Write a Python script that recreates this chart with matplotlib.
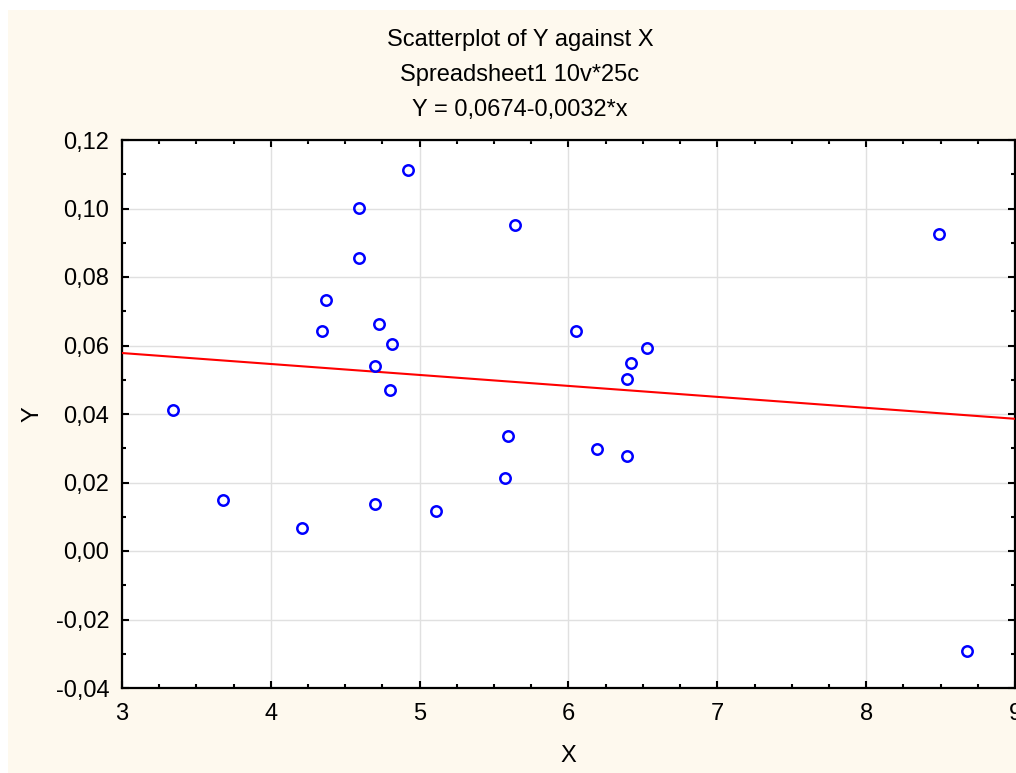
import matplotlib
matplotlib.use("Agg")
import matplotlib.pyplot as plt
from matplotlib.patches import Rectangle
from matplotlib.ticker import MultipleLocator, FuncFormatter
import numpy as np

x_vals = [3.34, 3.68, 4.21, 4.345, 4.37, 4.595, 4.595, 4.70, 4.73, 4.815,
          4.80, 4.70, 4.92, 5.11, 5.64, 5.57, 5.595, 6.05, 6.19, 6.39,
          6.395, 6.42, 6.53, 8.49, 8.68]
y_vals = [0.0412, 0.0150, 0.0067, 0.0643, 0.0734, 0.1002, 0.0855, 0.0541, 0.0663, 0.0604,
          0.0470, 0.0137, 0.1111, 0.0117, 0.0951, 0.0214, 0.0336, 0.0643, 0.0298, 0.0278,
          0.0503, 0.0548, 0.0593, 0.0925, -0.0293]
intercept = 0.0674
slope = -0.0032
title_lines = ["Scatterplot of Y against X", "Spreadsheet1 10v*25c", "Y = 0,0674-0,0032*x"]

W, H = 1016, 773
fig = plt.figure(figsize=(W / 100, H / 100), dpi=100)
fig.patch.set_facecolor("white")
plt.rcParams['font.family'] = ['Liberation Sans', 'DejaVu Sans']

fig.patches.append(Rectangle((8 / W, 0), 1, 1 - 10 / H, transform=fig.transFigure,
                             facecolor="#FEF9EE", edgecolor="none", zorder=-10))

ax = fig.add_axes([122 / W, 1 - 688 / H, (1015 - 122) / W, (688 - 140) / H])
ax.set_facecolor("white")
ax.set_xlim(3, 9)
ax.set_ylim(-0.04, 0.12)

ax.xaxis.set_major_locator(MultipleLocator(1))
ax.xaxis.set_minor_locator(MultipleLocator(0.25))
ax.yaxis.set_major_locator(MultipleLocator(0.02))
ax.yaxis.set_minor_locator(MultipleLocator(0.01))
ax.yaxis.set_major_formatter(FuncFormatter(lambda v, p: f"{v:.2f}".replace(".", ",").replace("-0,00", "0,00")))
ax.xaxis.set_major_formatter(FuncFormatter(lambda v, p: f"{v:.0f}"))

ax.grid(True, which="major", color="#E0E0E0", linewidth=1.0, zorder=0)
ax.tick_params(which="both", direction="in", top=True, right=True, width=1.5, color="black")
ax.tick_params(which="major", length=5, labelsize=17)
ax.tick_params(axis="x", which="major", pad=11)
ax.tick_params(axis="y", which="major", pad=9)
ax.tick_params(which="minor", length=3)
for s in ax.spines.values():
    s.set_linewidth(1.6)
    s.set_color("black")

xl = np.array([3, 9])
ax.plot(xl, intercept + slope * xl, color="#FF0000", linewidth=1.5, zorder=3)
ax.plot(x_vals, y_vals, linestyle="none", marker="o", markersize=7.5,
        markerfacecolor="none", markeredgecolor="#0000FF", markeredgewidth=1.8, zorder=4,
        clip_on=False)

ax.set_xlabel("X", fontsize=17, labelpad=14)
ax.set_ylabel("Y", fontsize=17, labelpad=9)

for i, t in enumerate(title_lines):
    fig.text(520 / W, 1 - (40 + 35 * i) / H, t, ha="center", va="center", fontsize=17)

fig.savefig("out.png", dpi=100, facecolor=fig.get_facecolor())
